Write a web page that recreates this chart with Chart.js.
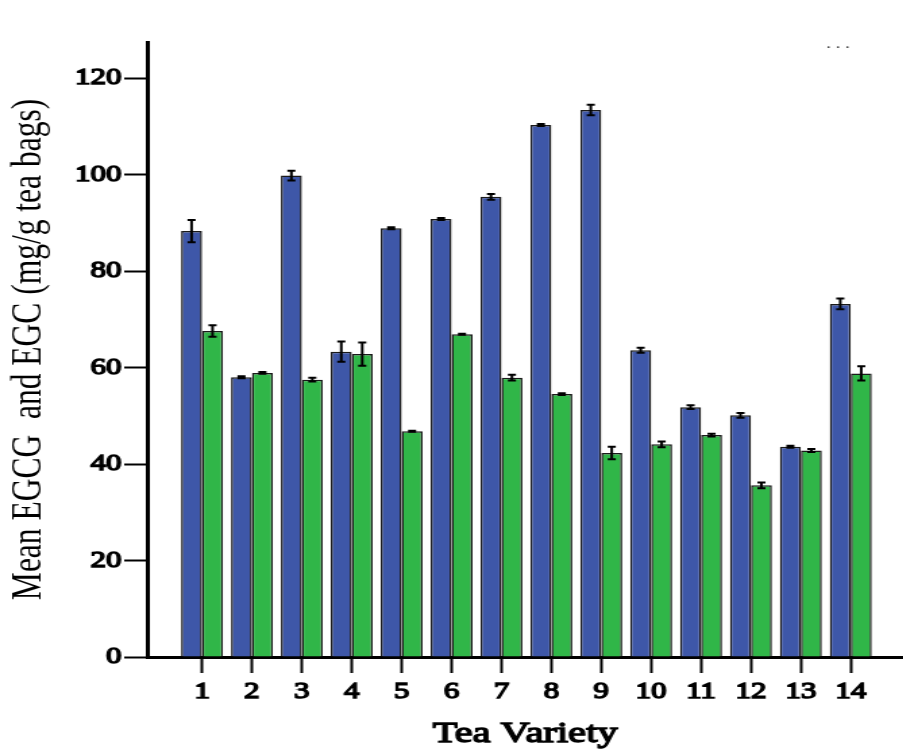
<!DOCTYPE html>
<html>
<head>
<meta charset="utf-8">
<script src="https://cdn.jsdelivr.net/npm/chart.js@4/dist/chart.umd.min.js"></script>
<style>
  body { margin: 0; background: #fff; overflow: hidden; }
  /* the source figure is stretched sideways, so draw narrow and widen */
  #wrap { width: 669px; height: 749px; transform: scaleX(1.35); transform-origin: 0 0; }
</style>
</head>
<body>
<div id="wrap"><canvas id="grafica" width="669" height="749"></canvas></div>
<script>
var categorias = ['1','2','3','4','5','6','7','8','9','10','11','12','13','14'];
var egcg     = [88.3, 58.0, 99.8, 63.3, 88.9, 90.8, 95.4, 110.3, 113.4, 63.6, 51.8, 50.1, 43.6, 73.2];
var egc      = [67.6, 58.9, 57.5, 62.8, 46.8, 66.9, 57.9, 54.5, 42.3, 44.1, 46.0, 35.6, 42.8, 58.8];
var egcg_err = [2.3, 0.2, 1.0, 2.1, 0.2, 0.2, 0.6, 0.2, 1.1, 0.5, 0.4, 0.5, 0.2, 1.1];
var egc_err  = [1.2, 0.2, 0.4, 2.4, 0.1, 0.1, 0.6, 0.2, 1.3, 0.6, 0.3, 0.6, 0.3, 1.5];
var ticks_y  = [0, 20, 40, 60, 80, 100, 120];

var serif = "'Liberation Serif', 'Times New Roman', serif";

// error bars, x axis title and the dots at the top
var barras_error = {
    id: 'barras_error',
    afterDraw: function(chart){
        var ctx = chart.ctx;
        var y = chart.scales.y;
        var errores = [egcg_err, egc_err];
        ctx.save();
        ctx.strokeStyle = '#000';
        ctx.lineWidth = 2;
        for (let d = 0; d < chart.data.datasets.length; d++) {
            var meta = chart.getDatasetMeta(d);
            var valores = chart.data.datasets[d].data;
            for (let i = 0; i < meta.data.length; i++) {
                var x = meta.data[i].x;
                var v = valores[i].y;
                var e = errores[d][i];
                var y1 = y.getPixelForValue(v + e);
                var y2 = y.getPixelForValue(v - e);
                ctx.beginPath();
                ctx.moveTo(x, y1); ctx.lineTo(x, y2);
                ctx.moveTo(x - 3, y1); ctx.lineTo(x + 3, y1);
                ctx.moveTo(x - 3, y2); ctx.lineTo(x + 3, y2);
                ctx.stroke();
            }
        }
        var area = chart.chartArea;
        ctx.fillStyle = '#000';
        ctx.strokeStyle = '#000';
        ctx.lineWidth = 1.4;
        ctx.font = '30px ' + serif;
        ctx.textAlign = 'center';
        ctx.textBaseline = 'middle';
        ctx.fillText('Tea Variety', (area.left + area.right) / 2, 734);
        ctx.strokeText('Tea Variety', (area.left + area.right) / 2, 734);

        ctx.fillStyle = '#333';
        ctx.font = '14px ' + serif;
        ctx.textAlign = 'left';
        ctx.fillText('. . .', 612, 44);
        ctx.restore();
    }
};

new Chart(document.getElementById('grafica'), {
    type: 'bar',
    data: {
        datasets: [{
            label: 'EGCG',
            data: egcg.map(function(v, i){ return {x: i + 1, y: v}; }),
            backgroundColor: 'rgb(62, 87, 168)',
            borderColor: '#1a1a1a',
            borderWidth: 1.5
        }, {
            label: 'EGC',
            data: egc.map(function(v, i){ return {x: i + 1, y: v}; }),
            backgroundColor: 'rgb(48, 182, 72)',
            borderColor: '#1a1a1a',
            borderWidth: 1.5
        }]
    },
    options: {
        responsive: false,
        animation: false,
        categoryPercentage: 0.84,
        barPercentage: 1.0,
        layout: { padding: { top: 42, left: 0, right: 0, bottom: 0 } },
        plugins: {
            legend: { display: false },
            tooltip: { enabled: false }
        },
        scales: {
            x: {
                type: 'linear',
                min: -0.1,
                max: 15.05,
                offset: false,
                z: 1,
                afterBuildTicks: function(s){ s.ticks = categorias.map(function(c, i){ return {value: i + 1}; }); },
                afterFit: function(s){ s.height = 92; },
                grid: { offset: false, drawOnChartArea: false, drawTicks: true, tickLength: 16, tickWidth: 2, tickColor: '#000' },
                border: { display: true, color: '#000', width: 3 },
                ticks: {
                    color: '#000',
                    padding: 5,
                    maxRotation: 0,
                    autoSkip: false,
                    textStrokeColor: '#000',
                    textStrokeWidth: 1.4,
                    font: { family: serif, size: 23 },
                    callback: function(v){ return categorias[v - 1]; }
                }
            },
            y: {
                min: 0,
                max: 127.5,
                z: 1,
                afterBuildTicks: function(s){ s.ticks = ticks_y.map(function(v){ return {value: v}; }); },
                afterFit: function(s){ s.width = 109; },
                grid: { drawOnChartArea: false, drawTicks: true, tickLength: 17, tickWidth: 2, tickColor: '#000' },
                border: { display: true, color: '#000', width: 3 },
                ticks: {
                    color: '#000',
                    padding: 2,
                    textStrokeColor: '#000',
                    textStrokeWidth: 1.4,
                    font: { family: serif, size: 23 }
                },
                title: {
                    display: true,
                    text: 'Mean EGCG  and EGC (mg/g tea bags)',
                    color: '#000',
                    padding: { top: 6, bottom: 0 },
                    font: { family: serif, size: 31.5, lineHeight: 1 }
                }
            }
        }
    },
    plugins: [barras_error]
});
</script>
</body>
</html>
